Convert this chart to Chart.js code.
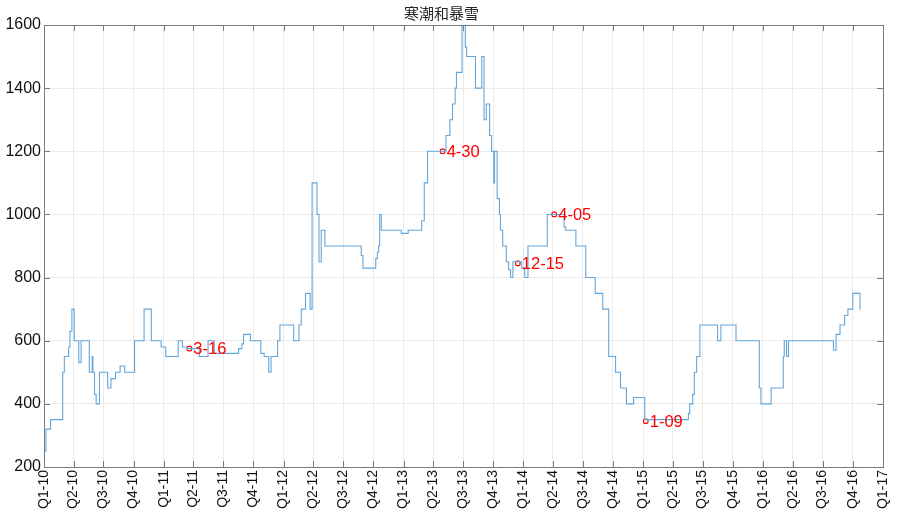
<!DOCTYPE html>
<html>
<head>
<meta charset="utf-8">
<title>寒潮和暴雪</title>
<script src="https://cdn.jsdelivr.net/npm/chart.js@4.4.1/dist/chart.umd.min.js"></script>
<style>
    html, body { margin: 0; padding: 0; background: #ffffff; }
    #cold-chart { display: block; }
</style>
</head>
<body>
<canvas id="cold-chart" width="903" height="511"></canvas>
<script>
'use strict';

// Step series: each value holds from its date until the next one
var stepDates = [
    '2010-01-01', '2010-01-07', '2010-01-21', '2010-02-27', '2010-03-04', '2010-03-17',
    '2010-03-21', '2010-03-27', '2010-04-03', '2010-04-17', '2010-04-24', '2010-05-19',
    '2010-05-28', '2010-05-30', '2010-06-04', '2010-06-09', '2010-06-19', '2010-07-14',
    '2010-07-24', '2010-08-07', '2010-08-21', '2010-09-04', '2010-10-04', '2010-11-02',
    '2010-11-24', '2010-12-24', '2011-01-07', '2011-02-14', '2011-02-27', '2011-03-13',
    '2011-04-19', '2011-05-16', '2011-06-04', '2011-08-17', '2011-08-27', '2011-09-01',
    '2011-09-22', '2011-10-24', '2011-11-03', '2011-11-17', '2011-11-24', '2011-12-14',
    '2011-12-21', '2012-02-01', '2012-02-17', '2012-02-24', '2012-03-08', '2012-03-22',
    '2012-03-28', '2012-04-12', '2012-04-18', '2012-04-25', '2012-05-06', '2012-08-25',
    '2012-08-30', '2012-10-08', '2012-10-13', '2012-10-17', '2012-10-20', '2012-10-25',
    '2012-12-25', '2013-01-15', '2013-02-25', '2013-03-05', '2013-03-15', '2013-05-10',
    '2013-05-22', '2013-05-30', '2013-06-07', '2013-06-11', '2013-06-28', '2013-07-08',
    '2013-07-12', '2013-08-08', '2013-08-27', '2013-09-03', '2013-09-10', '2013-09-20',
    '2013-09-26', '2013-10-03', '2013-10-05', '2013-10-13', '2013-10-20', '2013-10-23',
    '2013-10-30', '2013-11-10', '2013-11-17', '2013-11-23', '2013-11-30', '2013-12-27',
    '2014-01-05', '2014-01-15', '2014-03-15', '2014-05-05', '2014-05-10', '2014-06-10',
    '2014-07-10', '2014-08-08', '2014-08-31', '2014-09-18', '2014-10-09', '2014-10-24',
    '2014-11-11', '2014-12-03', '2015-01-06', '2015-05-19', '2015-05-23', '2015-06-01',
    '2015-06-06', '2015-06-13', '2015-06-23', '2015-08-16', '2015-08-26', '2015-10-11',
    '2015-12-21', '2015-12-26', '2016-01-26', '2016-03-03', '2016-03-06', '2016-03-13',
    '2016-03-19', '2016-08-03', '2016-08-11', '2016-08-23', '2016-09-06', '2016-09-16',
    '2016-10-01', '2016-10-23', '2016-10-24'
];

var stepValues = [
    250, 320, 350, 500, 550, 580,
    630, 700, 600, 530, 600, 500,
    550, 500, 430, 400, 500, 450,
    480, 500, 520, 500, 600, 700,
    600, 580, 550, 600, 580, 575,
    550, 600, 560, 575, 590, 620,
    600, 560, 550, 500, 550, 600,
    650, 600, 650, 700, 750, 700,
    1100, 1000, 850, 950, 900, 870,
    830, 860, 880, 900, 1000, 950,
    940, 950, 980, 1100, 1200, 1250,
    1300, 1350, 1400, 1450, 1650, 1530,
    1500, 1400, 1500, 1300, 1350, 1250,
    1200, 1100, 1200, 1050, 1000, 950,
    900, 850, 825, 800, 850, 830,
    800, 900, 1000, 960, 950, 900,
    800, 750, 700, 550, 500, 450,
    400, 420, 350, 370, 400, 430,
    500, 550, 650, 600, 650, 600,
    450, 400, 450, 550, 600, 550,
    600, 570, 620, 650, 680, 700,
    750, 700, 700
];

// Annotated points
var markerDates = ['2011-03-20', '2013-04-30', '2013-12-15', '2014-04-05', '2015-01-09'];
var markerValues = [575, 1200, 845, 1000, 345];
var markerLabels = ['3-16', '4-30', '12-15', '4-05', '1-09'];

// Quarter tick labels
var quarterLabels = [
    'Q1-10', 'Q2-10', 'Q3-10', 'Q4-10', 'Q1-11', 'Q2-11', 'Q3-11', 'Q4-11',
    'Q1-12', 'Q2-12', 'Q3-12', 'Q4-12', 'Q1-13', 'Q2-13', 'Q3-13', 'Q4-13',
    'Q1-14', 'Q2-14', 'Q3-14', 'Q4-14', 'Q1-15', 'Q2-15', 'Q3-15', 'Q4-15',
    'Q1-16', 'Q2-16', 'Q3-16', 'Q4-16', 'Q1-17'
];

var yTicks = [200, 400, 600, 800, 1000, 1200, 1400, 1600];

var chartTitle = '寒潮和暴雪';

/**
 * Days since 2010-01-01
 */
function dayNumber(dateStr) {
    var p = dateStr.split('-');
    return (Date.UTC(+p[0], +p[1] - 1, +p[2]) - Date.UTC(2010, 0, 1)) / 86400000;
}

/**
 * 'Q3-12' -> day number of 2012-07-01
 */
function quarterDay(label) {
    var q = +label.charAt(1);
    var y = 2000 + +label.slice(3);
    return (Date.UTC(y, (q - 1) * 3, 1) - Date.UTC(2010, 0, 1)) / 86400000;
}

var quarterDays = quarterLabels.map(quarterDay);

var stepPoints = stepDates.map(function(d, i) {
    return { x: dayNumber(d), y: stepValues[i] };
});

var markerPoints = markerDates.map(function(d, i) {
    return { x: dayNumber(d), y: markerValues[i] };
});

var axisColor = '#7a7a7a';
var labelFont = 'Liberation Sans, Arial, sans-serif';

// Box around plot area with inward tick marks (matlab look)
var boxPlugin = {
    id: 'boxTicks',
    afterDraw: function(chart) {
        var ctx = chart.ctx;
        var a = chart.chartArea;
        var xs = chart.scales.x;
        var ys = chart.scales.y;
        var len = 6;

        ctx.save();
        ctx.strokeStyle = axisColor;
        ctx.lineWidth = 1;
        ctx.beginPath();
        ctx.rect(Math.round(a.left) + 0.5, Math.round(a.top) + 0.5,
            Math.round(a.right - a.left), Math.round(a.bottom - a.top));

        quarterDays.forEach(function(v) {
            var px = Math.round(xs.getPixelForValue(v)) + 0.5;
            ctx.moveTo(px, a.top);
            ctx.lineTo(px, a.top + len);
            ctx.moveTo(px, a.bottom);
            ctx.lineTo(px, a.bottom - len);
        });

        yTicks.forEach(function(v) {
            var py = Math.round(ys.getPixelForValue(v)) + 0.5;
            ctx.moveTo(a.left, py);
            ctx.lineTo(a.left + len, py);
            ctx.moveTo(a.right, py);
            ctx.lineTo(a.right - len, py);
        });
        ctx.stroke();
        ctx.restore();
    }
};

// Red text next to each annotated point
var markerLabelPlugin = {
    id: 'markerLabels',
    afterDatasetsDraw: function(chart) {
        var ctx = chart.ctx;
        var meta = chart.getDatasetMeta(1);

        ctx.save();
        ctx.fillStyle = '#ff0000';
        ctx.font = '16.5px ' + labelFont;
        ctx.textAlign = 'left';
        ctx.textBaseline = 'middle';
        meta.data.forEach(function(pt, i) {
            ctx.fillText(markerLabels[i], pt.x + 4, pt.y + 1);
        });
        ctx.restore();
    }
};

var ctx = document.getElementById('cold-chart').getContext('2d');

new Chart(ctx, {
    type: 'line',
    data: {
        datasets: [
            {
                label: chartTitle,
                data: stepPoints,
                stepped: true,
                borderColor: '#63a6dc',
                borderWidth: 1.1,
                pointRadius: 0,
                fill: false
            },
            {
                label: 'markers',
                data: markerPoints,
                showLine: false,
                pointStyle: 'rectRounded',
                pointRadius: 2.6,
                pointBorderWidth: 1.2,
                pointBorderColor: '#ff0000',
                pointBackgroundColor: 'rgba(255,255,255,0)'
            }
        ]
    },
    options: {
        responsive: false,
        animation: false,
        layout: {
            padding: { left: 0, right: 20, top: 0, bottom: 0 }
        },
        plugins: {
            legend: { display: false },
            tooltip: { enabled: false },
            title: {
                display: true,
                text: chartTitle,
                color: '#262626',
                font: { family: 'Noto Sans CJK SC', size: 15, weight: 'normal' },
                padding: { top: 4, bottom: 3 }
            }
        },
        scales: {
            x: {
                type: 'linear',
                min: quarterDays[0],
                max: quarterDays[quarterDays.length - 1],
                afterBuildTicks: function(axis) {
                    axis.ticks = quarterDays.map(function(v) { return { value: v }; });
                },
                afterFit: function(scale) {
                    scale.height = 44;
                },
                grid: {
                    color: '#ebebeb',
                    drawTicks: false
                },
                border: { color: axisColor },
                ticks: {
                    autoSkip: false,
                    minRotation: 90,
                    maxRotation: 90,
                    padding: 3,
                    color: '#111111',
                    font: { family: labelFont, size: 14 },
                    callback: function(value) {
                        var i = quarterDays.indexOf(value);
                        return i >= 0 ? quarterLabels[i] : '';
                    }
                }
            },
            y: {
                min: 200,
                max: 1600,
                afterBuildTicks: function(axis) {
                    axis.ticks = yTicks.map(function(v) { return { value: v }; });
                },
                afterFit: function(scale) {
                    scale.width = 44;
                },
                grid: {
                    color: '#ebebeb',
                    drawTicks: false
                },
                border: { color: axisColor },
                ticks: {
                    padding: 3,
                    color: '#111111',
                    font: { family: labelFont, size: 16 },
                    callback: function(value) {
                        return String(value);
                    }
                }
            }
        }
    },
    plugins: [boxPlugin, markerLabelPlugin]
});
</script>
</body>
</html>
